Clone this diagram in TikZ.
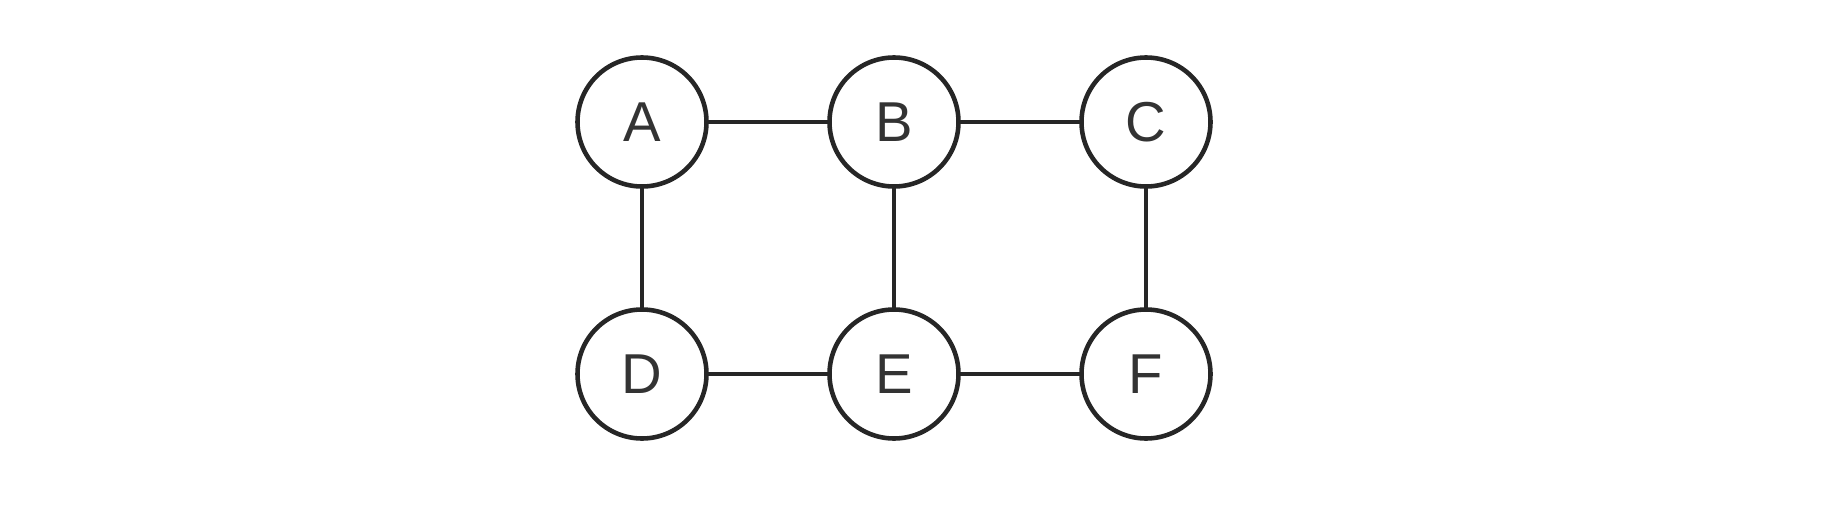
\documentclass[tikz,border=0pt]{standalone}
\usepackage{fontspec}
\setmainfont{Liberation Sans}
\usepackage{tikz}
\usetikzlibrary{positioning}
\tikzset{
    vertex/.style={draw=black!85, circle, line width=1.3pt, minimum size=1.29cm, inner sep=0pt, outer sep=0pt, text=black!80, font=\fontsize{16}{19}\selectfont},
    link/.style={draw=black!85, line width=1.3pt}
}

\begin{document}
\begin{tikzpicture}[node distance=1.23cm]
                    \useasboundingbox (0,0) rectangle (18.3,5.16);
                    \node[vertex] (a) at (6.42,3.94) {A};
                    \node[vertex, right=of a] (b) {B};
                    \node[vertex, right=of b] (c) {C};
                    \node[vertex, below=of a] (d) {D};
                    \node[vertex, below=of b] (e) {E};
                    \node[vertex, below=of c] (f) {F};
                    
                    \draw[link] (a) -- (b);
                    \draw[link] (b) -- (c);
                    \draw[link] (d) -- (e);
                    \draw[link] (e) -- (f);
                    \draw[link] (a) -- (d);
                    \draw[link] (b) -- (e);
                    \draw[link] (c) -- (f);
                \end{tikzpicture}
\end{document}
